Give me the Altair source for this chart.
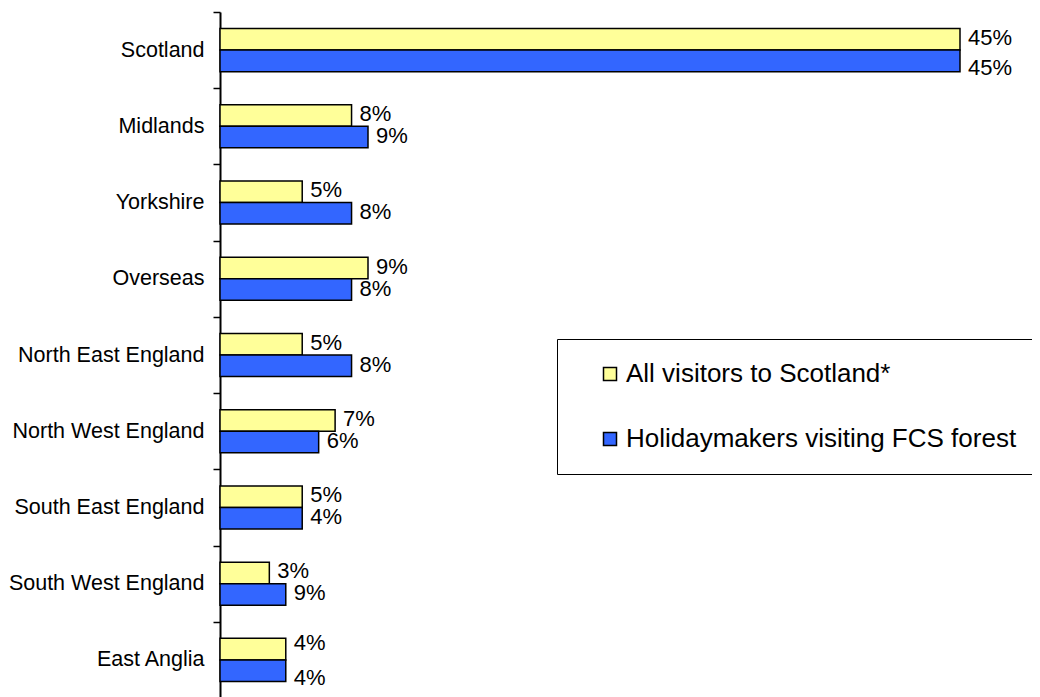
import altair as alt
import pandas as pd

regions = ["Scotland", "Midlands", "Yorkshire", "Overseas", "North East England",
           "North West England", "South East England", "South West England", "East Anglia"]
series = ["All visitors to Scotland*", "Holidaymakers visiting FCS forest"]

all_values = [45, 8, 5, 9, 5, 7, 5, 3, 4]
all_labels = ["45%", "8%", "5%", "9%", "5%", "7%", "5%", "3%", "4%"]
fcs_values = [45, 9, 8, 8, 8, 6, 5, 4, 4]
fcs_labels = ["45%", "9%", "8%", "8%", "8%", "6%", "4%", "9%", "4%"]

colors = ["#FFFF99", "#3366FF"]

rows = []
for r, v, l in zip(regions, all_values, all_labels):
    rows.append({"region": r, "series": series[0], "value": v, "label": l})
for r, v, l in zip(regions, fcs_values, fcs_labels):
    rows.append({"region": r, "series": series[1], "value": v, "label": l})
df = pd.DataFrame(rows)

H = 686
step = H / len(regions)

y = alt.Y("region:N", sort=regions,
          scale=alt.Scale(paddingInner=0, paddingOuter=0),
          axis=alt.Axis(title=None, tickOffset=-step / 2, labelOffset=step / 2,
                        labelFontSize=21.5, labelColor="black", labelPadding=9,
                        labelLimit=400,
                        tickSize=7, tickColor="black", tickWidth=1.5,
                        domainColor="black", domainWidth=2))
yoff = alt.YOffset("series:N", sort=series,
                   scale=alt.Scale(paddingInner=0, paddingOuter=0.77))
x = alt.X("value:Q", scale=alt.Scale(domain=[0, 45], nice=False, zero=True), axis=None)

bars = alt.Chart(df).mark_bar(stroke="black", strokeWidth=1.5).encode(
    y=y, yOffset=yoff, x=x,
    color=alt.Color("series:N",
                    scale=alt.Scale(domain=series, range=colors),
                    legend=alt.Legend(title=" ", titleOrient="right", titlePadding=30,
                                      titleFontSize=10,
                                      orient="none", legendX=337, legendY=327,
                                      direction="vertical", symbolType="square",
                                      symbolSize=169, symbolStrokeColor="black",
                                      symbolStrokeWidth=1.5, symbolOffset=18,
                                      labelFontSize=26, labelColor="black", labelOffset=3,
                                      padding=22, rowPadding=39,
                                      strokeColor="black", fillColor="white",
                                      labelLimit=600)),
)


def label_layer(series_name, region_list, dy):
    return alt.Chart(df).transform_filter(
        alt.FieldEqualPredicate(field="series", equal=series_name)
    ).transform_filter(
        alt.FieldOneOfPredicate(field="region", oneOf=region_list)
    ).mark_text(align="left", baseline="middle", dx=8, dy=dy,
                fontSize=22, color="black").encode(
        y=y, yOffset=yoff, x=x, text="label:N")


spread = ["Scotland", "East Anglia"]
others = [r for r in regions if r not in spread]

texts = [
    label_layer(series[0], others + ["Scotland"], -1.5),
    label_layer(series[0], ["East Anglia"], -6.5),
    label_layer(series[1], others, -1),
    label_layer(series[1], spread, 7.5),
]

chart = alt.layer(bars, *texts).properties(
    width=740, height=H,
    autosize=alt.AutoSizeParams(type="none"),
    padding={"left": 212, "top": 4, "right": 72, "bottom": 0},
).configure(font="Liberation Sans").configure_view(stroke=None)

chart.save("out.html", embed_options={"renderer": "svg", "actions": False})
